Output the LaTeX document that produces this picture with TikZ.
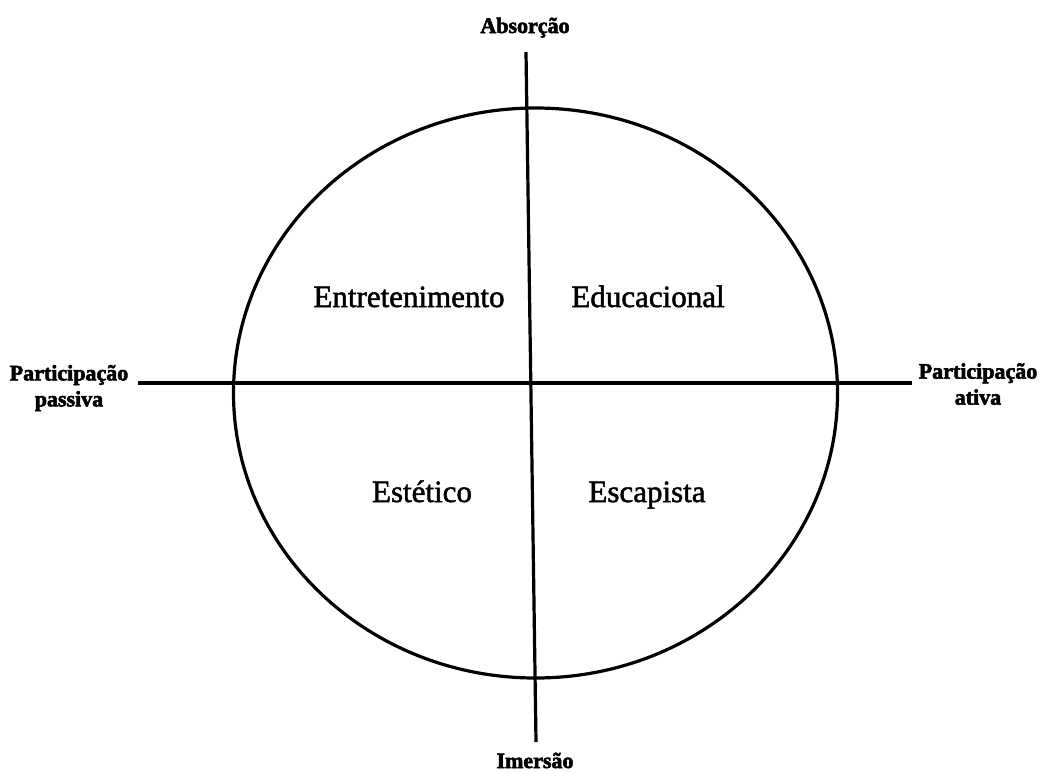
\documentclass[tikz,border=0pt]{standalone}
\usepackage{fontspec}
\setmainfont{Liberation Serif}
\newfontfamily\quadfont[FakeBold=1.6]{Liberation Serif}
\newfontfamily\axfont[FakeBold=2.6,BoldFont={Liberation Serif Bold}]{Liberation Serif Bold}
\begin{document}
\begin{tikzpicture}[x=1pt,y=-1pt,
  axis/.style={line width=3.2pt},
  quad/.style={font=\quadfont\fontsize{31}{36}\selectfont, anchor=base, inner sep=0pt},
  axlabel/.style={font=\axfont\fontsize{22}{26}\selectfont, inner sep=0pt, align=center}]
\useasboundingbox (0,0) rectangle (1040,772);
\coordinate (ctr) at (535.5,393);
\draw[line width=3.2pt] (ctr) ellipse [x radius=302, y radius=285];
\coordinate (vtop) at (526,52);
\coordinate (vbot) at (536,742);
\coordinate (hleft) at (138,383);
\coordinate (hright) at (912,383);
\draw[axis] (vtop) -- (vbot);
\draw[axis] (hleft) -- (hright);
\node[axlabel, anchor=base] (abs) at (525,33) {Absorção};
\node[axlabel, anchor=base] (ime) at (535,768) {Imersão};
\node[axlabel] (pas) at (69,388) {Participação\\passiva};
\node[axlabel] (ati) at (978,384) {Participação\\ativa};
\node[quad] (ent) at (409,307) {Entretenimento};
\node[quad] (edu) at (648,307) {Educacional};
\node[quad] (est) at (422,502) {Estético};
\node[quad] (esc) at (647,502) {Escapista};
\end{tikzpicture}
\end{document}
